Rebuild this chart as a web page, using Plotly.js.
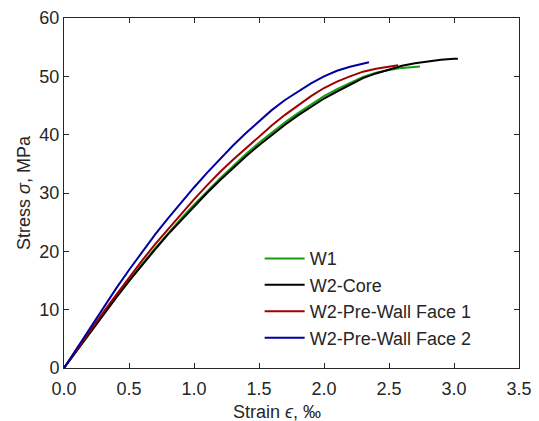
<!DOCTYPE html>
<html>
<head>
<meta charset="utf-8">
<script src="https://cdn.plot.ly/plotly-3.0.1.min.js"></script>
<style>html,body{margin:0;padding:0;background:#fff;}#chart{width:539px;height:421px;}</style>
</head>
<body>
<div id="chart"></div>
<script>
// Series names
const seriesNames = ["W1", "W2-Core", "W2-Pre-Wall Face 1", "W2-Pre-Wall Face 2"];

// W1 (green)
const w1Strain = [0,0.1,0.2,0.3,0.4,0.5,0.6,0.7,0.8,0.9,1.0,1.1,1.2,1.3,1.4,1.5,1.6,1.7,1.8,1.9,2.0,2.1,2.2,2.3,2.4,2.5,2.6,2.7,2.738];
const w1Stress = [0,3.1,6.2,9.2,12.1,15.0,17.8,20.5,23.1,25.6,28.0,30.3,32.5,34.6,36.7,38.6,40.4,42.1,43.7,45.2,46.6,47.8,48.9,49.9,50.6,51.1,51.45,51.65,51.7];

// W2-Core (black)
const coreStrain = [0,0.1,0.2,0.3,0.4,0.5,0.6,0.7,0.8,0.9,1.0,1.1,1.2,1.3,1.4,1.5,1.6,1.7,1.8,1.9,2.0,2.1,2.2,2.3,2.4,2.5,2.6,2.7,2.8,2.9,3.0,3.03];
const coreStress = [0,3.05,6.1,9.1,12.0,14.9,17.7,20.3,22.9,25.3,27.7,30.0,32.2,34.3,36.3,38.2,40.0,41.7,43.3,44.8,46.2,47.4,48.6,49.7,50.5,51.2,51.8,52.25,52.6,52.85,53.0,53.0];

// W2-Pre-Wall Face 1 (red)
const face1Strain = [0,0.1,0.2,0.3,0.4,0.5,0.6,0.7,0.8,0.9,1.0,1.1,1.2,1.3,1.4,1.5,1.6,1.7,1.8,1.9,2.0,2.1,2.2,2.3,2.4,2.5,2.57];
const face1Stress = [0,3.2,6.4,9.5,12.5,15.5,18.4,21.2,23.8,26.4,28.9,31.3,33.6,35.7,37.7,39.7,41.6,43.4,45.0,46.6,48.0,49.1,50.0,50.8,51.3,51.7,51.9];

// W2-Pre-Wall Face 2 (blue)
const face2Strain = [0,0.1,0.2,0.3,0.4,0.5,0.6,0.7,0.8,0.9,1.0,1.1,1.2,1.3,1.4,1.5,1.6,1.7,1.8,1.9,2.0,2.1,2.2,2.3,2.346];
const face2Stress = [0,3.45,6.9,10.3,13.6,16.8,19.9,22.85,25.65,28.35,30.95,33.45,35.85,38.15,40.3,42.35,44.25,45.95,47.45,48.8,50.0,50.95,51.65,52.2,52.4];

// Axis ticks
const xTicks = [0,0.5,1.0,1.5,2.0,2.5,3.0,3.5];
const xTickLabels = ["0.0","0.5","1.0","1.5","2.0","2.5","3.0","3.5"];
const yTicks = [0,10,20,30,40,50,60];

const colors = ["#12a012", "#000000", "#a00000", "#0000a0"];
const xs = [w1Strain, coreStrain, face1Strain, face2Strain];
const ys = [w1Stress, coreStress, face1Stress, face2Stress];

const traces = seriesNames.map((n, i) => ({
  x: xs[i], y: ys[i], name: n, type: "scatter", mode: "lines",
  line: {color: colors[i], width: 2, shape: "linear"}
}));

const font = {family: "Liberation Sans, Arial, sans-serif", size: 18, color: "#262626"};
const axisCommon = {
  showgrid: false, zeroline: false, showline: true, linecolor: "#262626", linewidth: 1,
  mirror: "ticks", ticks: "inside", ticklen: 5, tickcolor: "#262626", tickwidth: 1,
  tickfont: font
};

const layout = {
  width: 539, height: 421,
  margin: {l: 64, r: 20, t: 18, b: 53},
  paper_bgcolor: "#fff", plot_bgcolor: "#fff",
  font: font,
  showlegend: true,
  legend: {x: 0.43, y: 0.365, xanchor: "left", yanchor: "top", bgcolor: "rgba(0,0,0,0)",
           borderwidth: 0, font: font, tracegroupgap: 0, itemwidth: 40},
  xaxis: Object.assign({}, axisCommon, {
    range: [0, 3.5], tickvals: xTicks, ticktext: xTickLabels, ticklabelstandoff: 4
  }),
  yaxis: Object.assign({}, axisCommon, {
    range: [0, 60], tickvals: yTicks,
    title: {text: "Stress <i>σ</i>, MPa", font: font, standoff: 4}
  }),
  annotations: [{
    text: "Strain <i>ϵ</i>, ‰", xref: "paper", yref: "paper",
    x: 0.469, y: -0.125, xanchor: "center", yanchor: "middle",
    showarrow: false, font: font
  }]
};

Plotly.newPlot("chart", traces, layout, {displayModeBar: false, staticPlot: true});
</script>
</body>
</html>
